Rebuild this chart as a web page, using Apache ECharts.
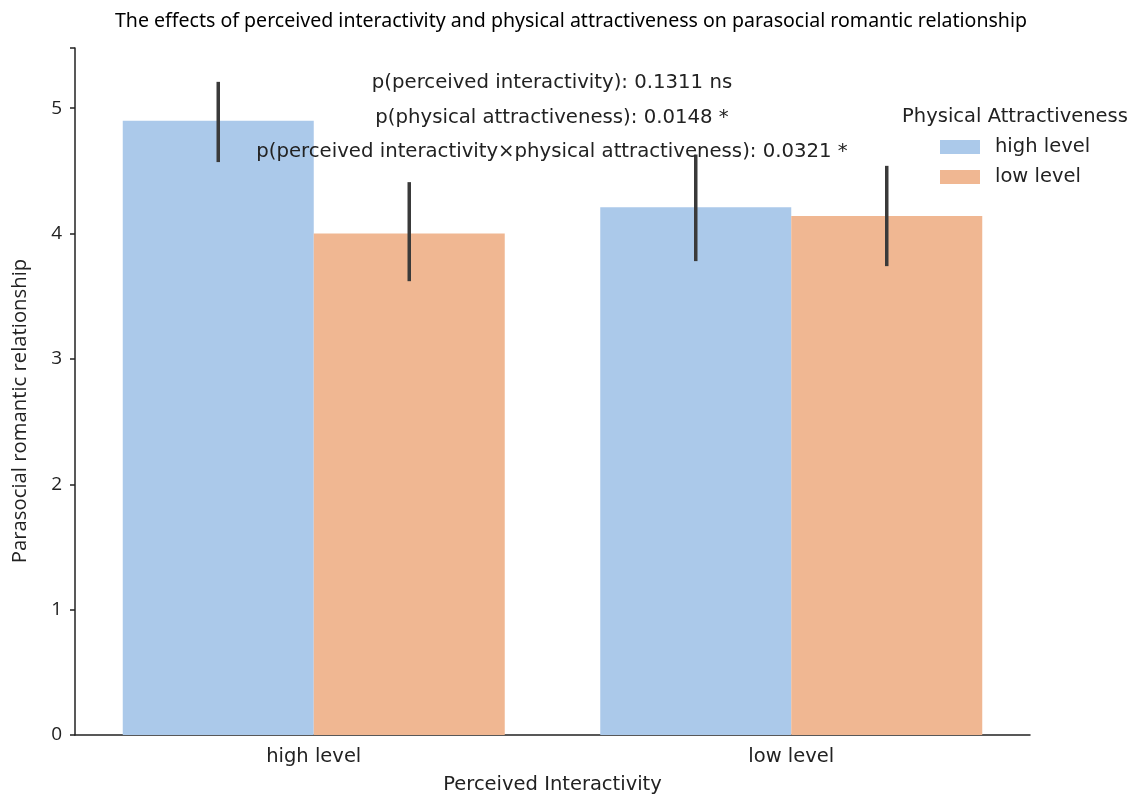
<!DOCTYPE html>
<html><head><meta charset="utf-8">
<script src="https://cdn.jsdelivr.net/npm/echarts@6/dist/echarts.min.js"></script>
<style>html,body{margin:0;padding:0;background:#fff}#c{width:1133px;height:800px}</style>
</head><body><div id="c"></div>
<script>
const categories = ['high level', 'low level'];
const seriesNames = ['high level', 'low level'];
const highAttrMeans = [4.90, 4.21];
const lowAttrMeans = [4.00, 4.14];
const highAttrCI = [[4.57, 5.21], [3.78, 4.63]];
const lowAttrCI = [[3.62, 4.41], [3.74, 4.54]];
const yTicks = [0, 1, 2, 3, 4, 5];
const titleText = 'The effects of perceived interactivity and physical attractiveness on parasocial romantic relationship';
const yAxisTitle = 'Parasocial romantic relationship';
const xAxisTitle = 'Perceived Interactivity';
const legendTitle = 'Physical Attractiveness';
const annotations = [
  'p(perceived interactivity): 0.1311 ns',
  'p(physical attractiveness): 0.0148 *',
  'p(perceived interactivity\u00d7physical attractiveness): 0.0321 *'
];

const FONT = 'DejaVu Sans';
const FS = 19.5;
const chart = echarts.init(document.getElementById('c'));

// measure title to compress it horizontally (condensed look)
const titleFont = '20px "Noto Sans"';
const mc = document.createElement('canvas').getContext('2d');
mc.font = titleFont;
const titleW = mc.measureText(titleText).width;
const titleScale = 912 / titleW;

function errData(ci) { return ci.map((d, i) => [i, d[0], d[1]]); }
function errRender(offsetFrac) {
  return function (params, api) {
    const i = api.value(0);
    const band = api.size([1, 0])[0];
    const lo = api.coord([i, api.value(1)]);
    const hi = api.coord([i, api.value(2)]);
    const x = lo[0] + offsetFrac * band;
    return {
      type: 'line',
      shape: { x1: x, y1: lo[1], x2: x, y2: hi[1] },
      style: { stroke: '#3a3a3a', lineWidth: 3.5 }
    };
  };
}

chart.setOption({
  animation: false,
  grid: { left: 75, right: 103, top: 48, bottom: 61 },
  legend: {
    orient: 'vertical', left: 935, top: 132,
    itemWidth: 40, itemHeight: 14, itemGap: 10,
    icon: 'rect',
    textStyle: { fontFamily: FONT, fontSize: FS, color: '#222', padding: [0, 0, 0, 10] },
    data: seriesNames
  },
  xAxis: {
    type: 'category', data: categories,
    name: xAxisTitle, nameLocation: 'middle', nameGap: 40,
    nameTextStyle: { fontFamily: FONT, fontSize: FS, color: '#222' },
    axisLine: { lineStyle: { color: '#222', width: 1.5 } },
    axisTick: { alignWithLabel: true, length: 5, lineStyle: { color: '#222', width: 1.5 } },
    axisLabel: { fontFamily: FONT, fontSize: FS, color: '#222', margin: 12 }
  },
  yAxis: {
    type: 'value', min: 0, max: 5.48, interval: 1,
    axisLine: { show: true, lineStyle: { color: '#222', width: 1.5 } },
    axisTick: { show: true, length: 5, lineStyle: { color: '#222', width: 1.5 } },
    axisLabel: { fontFamily: 'Open Sans', fontSize: 19, color: '#222', margin: 13,
      formatter: v => (yTicks.indexOf(v) >= 0 ? String(v) : '') },
    splitLine: { show: false }
  },
  series: [
    { name: seriesNames[0], type: 'bar', data: highAttrMeans, barGap: '0%', barCategoryGap: '20%',
      itemStyle: { color: '#abc9ea' } },
    { name: seriesNames[1], type: 'bar', data: lowAttrMeans, barGap: '0%', barCategoryGap: '20%',
      itemStyle: { color: '#f0b792' } },
    { type: 'custom', data: errData(highAttrCI), renderItem: errRender(-0.2), z: 5,
      encode: { x: 0, y: [1, 2] } },
    { type: 'custom', data: errData(lowAttrCI), renderItem: errRender(0.2), z: 5,
      encode: { x: 0, y: [1, 2] } }
  ],
  graphic: [
    { type: 'text', x: 571, y: 21, scaleX: titleScale, z: 10,
      style: { text: titleText, font: titleFont, fill: '#000', textAlign: 'center', textVerticalAlign: 'middle' } },
    { type: 'text', x: 20, y: 411, rotation: Math.PI / 2, z: 10,
      style: { text: yAxisTitle, font: '20.3px "Open Sans"', fill: '#222', textAlign: 'center', textVerticalAlign: 'middle' } },
    { type: 'text', x: 1015, y: 117, z: 10,
      style: { text: legendTitle, font: FS + 'px "DejaVu Sans"', fill: '#222', textAlign: 'center', textVerticalAlign: 'middle' } },
    ...annotations.map((t, k) => ({
      type: 'text', x: 552, y: 83 + k * 34.5, z: 10,
      style: { text: t, font: '19.7px "DejaVu Sans"', fill: '#222', textAlign: 'center', textVerticalAlign: 'middle' }
    }))
  ]
});
</script></body></html>
